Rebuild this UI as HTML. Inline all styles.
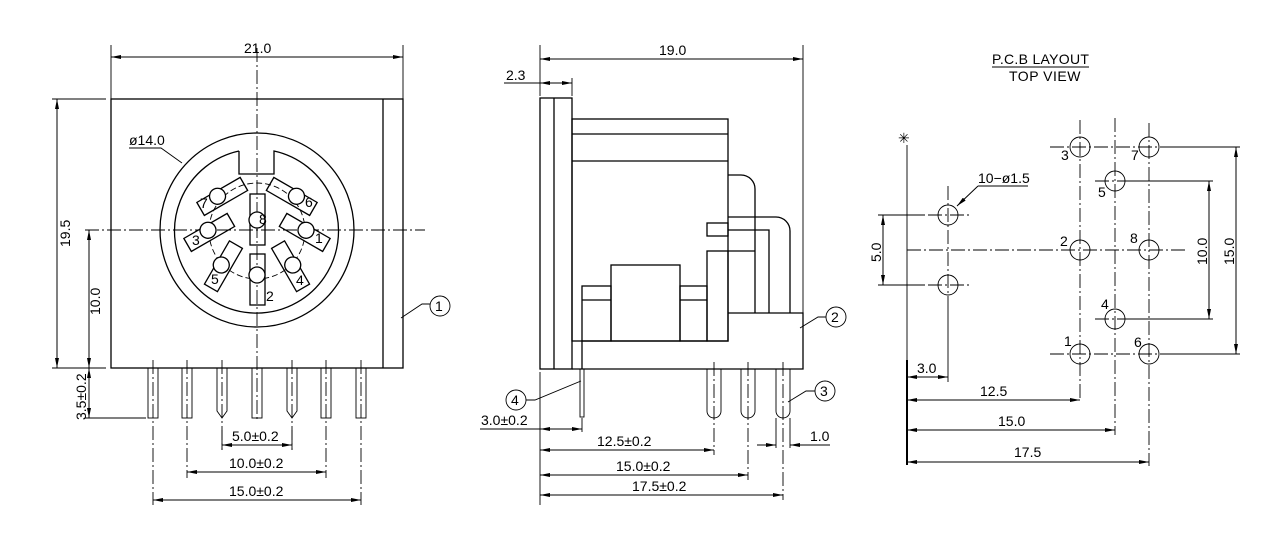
<!DOCTYPE html>
<html><head><meta charset="utf-8"><style>
html,body{margin:0;padding:0;background:#fff;}
svg{display:block;}
text{font-family:"Liberation Sans",sans-serif;font-size:14px;fill:#000;}
.s{fill:none;stroke:#000;stroke-width:1.3;}
.t{fill:none;stroke:#000;stroke-width:0.9;}
.c{fill:none;stroke:#000;stroke-width:0.9;stroke-dasharray:14 3 2 3;}
.d{fill:none;stroke:#000;stroke-width:1;marker-start:url(#a);marker-end:url(#a);}
.d1{fill:none;stroke:#000;stroke-width:1;marker-end:url(#a);}
</style></head><body>
<svg width="1267" height="548" viewBox="0 0 1267 548" xmlns="http://www.w3.org/2000/svg">
<defs><marker id="a" viewBox="0 0 10 4" refX="10" refY="2" markerWidth="10" markerHeight="4" orient="auto-start-reverse" markerUnits="userSpaceOnUse"><path d="M0,0L10,2L0,4z" fill="#000"/></marker></defs>
<rect width="1267" height="548" fill="#fff"/>

<!-- LEFT VIEW -->
<rect class="s" x="111" y="99" width="292" height="269"/>
<line class="s" x1="383" y1="99" x2="383" y2="368"/>
<line class="c" x1="257" y1="48" x2="257" y2="420"/>
<line class="c" x1="85" y1="230" x2="425" y2="230"/>
<circle class="s" cx="257" cy="230" r="97"/>
<path class="s" d="M239,151 L239,174 L274,174 L274,151 A82,82 0 1 1 239,151"/>
<circle class="t" cx="257" cy="231" r="48" stroke-dasharray="6 3"/>
<g class="s">
<g transform="translate(257,220)"><rect x="-7" y="-26" width="15" height="51"/><circle cx="0" cy="0" r="8" fill="#fff"/></g>
<g transform="translate(257,280)"><rect x="-7" y="-26" width="15" height="51"/><circle cx="0" cy="-5" r="8" fill="#fff"/></g>
<g transform="translate(292,196) rotate(30)"><rect x="-25" y="-7" width="50" height="15"/><circle cx="4" cy="-2" r="8" fill="#fff"/></g>
<g transform="translate(222,196) rotate(-30)"><rect x="-25" y="-7" width="50" height="15"/><circle cx="-4" cy="-2" r="8" fill="#fff"/></g>
<g transform="translate(305,232) rotate(30)"><rect x="-25" y="-7" width="50" height="15"/><circle cx="0" cy="-2" r="8" fill="#fff"/></g>
<g transform="translate(209,232) rotate(-30)"><rect x="-25" y="-7" width="50" height="15"/><circle cx="0" cy="-2" r="8" fill="#fff"/></g>
<g transform="translate(291,266) rotate(60)"><rect x="-25" y="-7" width="50" height="15"/><circle cx="0" cy="-2" r="8" fill="#fff"/></g>
<g transform="translate(223,266) rotate(-60)"><rect x="-25" y="-7" width="50" height="15"/><circle cx="0" cy="-2" r="8" fill="#fff"/></g>
</g>
<g font-size="12">
<text x="259" y="224">8</text>
<text x="266" y="301">2</text>
<text x="305" y="207">6</text>
<text x="200" y="208">7</text>
<text x="315" y="243">1</text>
<text x="192" y="245">3</text>
<text x="296" y="285">4</text>
<text x="211" y="284">5</text>
</g>
<text x="129" y="145">ø14.0</text>
<polyline class="t" points="129,148 161,148 182,163"/>
<!-- pins -->
<g class="t">
<rect x="148" y="368" width="10" height="50"/><rect x="182" y="368" width="10" height="50"/>
<path d="M217,368 V411 L222,418 L227,411 V368"/><rect x="252" y="368" width="10" height="50"/>
<path d="M287,368 V411 L292,418 L297,411 V368"/><rect x="321" y="368" width="10" height="50"/><rect x="356" y="368" width="10" height="50"/>
</g>
<g class="c"><line x1="153" y1="360" x2="153" y2="505"/><line x1="187" y1="360" x2="187" y2="478"/><line x1="222" y1="360" x2="222" y2="450"/><line x1="292" y1="360" x2="292" y2="450"/><line x1="326" y1="360" x2="326" y2="478"/><line x1="361" y1="360" x2="361" y2="505"/></g>
<line class="t" x1="222" y1="430" x2="222" y2="450"/><line class="t" x1="292" y1="430" x2="292" y2="450"/>
<line class="d" x1="222" y1="445" x2="292" y2="445"/><text x="232" y="441">5.0±0.2</text>
<line class="d" x1="187" y1="472" x2="326" y2="472"/><text x="229" y="468">10.0±0.2</text>
<line class="d" x1="153" y1="500" x2="361" y2="500"/><text x="229" y="496">15.0±0.2</text>
<!-- left dims -->
<line class="t" x1="111" y1="45" x2="111" y2="99"/><line class="t" x1="403" y1="45" x2="403" y2="99"/>
<line class="d" x1="111" y1="57" x2="403" y2="57"/><text x="244" y="53">21.0</text>
<line class="t" x1="52" y1="99" x2="106" y2="99"/><line class="t" x1="52" y1="368" x2="106" y2="368"/>
<line class="d" x1="57" y1="99" x2="57" y2="368"/>
<text transform="translate(70,247) rotate(-90)">19.5</text>
<line class="d" x1="89" y1="230" x2="89" y2="368"/>
<text transform="translate(100,315) rotate(-90)">10.0</text>
<line class="t" x1="85" y1="418" x2="146" y2="418"/>
<line class="d" x1="89" y1="368" x2="89" y2="418"/>
<text transform="translate(86,420) rotate(-90)" font-size="13">3.5±0.2</text>
<polyline class="t" points="401,318 422,304 430,304"/><circle class="t" cx="440" cy="306" r="10"/>
<text x="435" y="311">1</text>

<!-- MIDDLE VIEW -->
<g class="s">
<rect x="540" y="98" width="32" height="271"/><line x1="554" y1="98" x2="554" y2="369"/>
<rect x="572" y="119" width="156" height="222"/>
<line x1="572" y1="134" x2="728" y2="134"/><line x1="572" y1="161" x2="728" y2="161"/>
<path d="M572,369 H803 V313 H728"/><line x1="582" y1="341" x2="582" y2="369"/>
<rect x="582" y="286" width="29" height="55"/><line x1="582" y1="300" x2="611" y2="300"/>
<rect x="611" y="265" width="69" height="76"/>
<rect x="680" y="286" width="27" height="55"/><line x1="680" y1="300" x2="707" y2="300"/>
<rect x="707" y="251" width="21" height="90"/>
<rect x="707" y="223" width="21" height="13"/>
<path d="M728,175 H741 A14,14 0 0 1 755,189 V313"/>
<path d="M728,217 H776 A14,14 0 0 1 790,231 V313"/>
<path d="M728,230 H769 V313"/><path d="M728,251 H755"/>
</g>
<line class="t" x1="803" y1="45" x2="803" y2="313"/>
<g class="t">
<path d="M707,369 V411 A7,7 0 0 0 721,411 V369"/>
<path d="M741,369 V411 A7,7 0 0 0 755,411 V369"/>
<path d="M776,369 V411 A7,7 0 0 0 790,411 V369"/>
<rect x="580" y="369" width="4" height="48"/>
</g>
<g class="c"><line x1="714" y1="362" x2="714" y2="455"/><line x1="748" y1="362" x2="748" y2="480"/><line x1="783" y1="362" x2="783" y2="500"/></g>
<line class="t" x1="776" y1="418" x2="776" y2="448"/><line class="t" x1="790" y1="418" x2="790" y2="448"/>
<line class="d1" x1="757" y1="445" x2="776" y2="445"/><line class="d1" x1="830" y1="445" x2="790" y2="445"/>
<text x="810" y="441">1.0</text>
<line class="t" x1="540" y1="372" x2="540" y2="505"/><line class="t" x1="582" y1="418" x2="582" y2="432"/>
<line class="t" x1="480" y1="429" x2="540" y2="429"/>
<line class="d" x1="540" y1="429" x2="582" y2="429"/><text x="481" y="425">3.0±0.2</text>
<line class="d" x1="540" y1="450" x2="714" y2="450"/><text x="597" y="446">12.5±0.2</text>
<line class="d" x1="540" y1="475" x2="748" y2="475"/><text x="616" y="471">15.0±0.2</text>
<line class="d" x1="540" y1="495" x2="783" y2="495"/><text x="632" y="491">17.5±0.2</text>
<line class="t" x1="540" y1="45" x2="540" y2="96"/><line class="t" x1="572" y1="78" x2="572" y2="96"/>
<line class="d" x1="540" y1="59" x2="803" y2="59"/><text x="659" y="55">19.0</text>
<line class="t" x1="504" y1="83" x2="540" y2="83"/>
<line class="d" x1="540" y1="83" x2="572" y2="83"/><text x="506" y="80">2.3</text>
<polyline class="t" points="800,328 818,317 826,317"/><circle class="t" cx="836" cy="317" r="10"/><text x="831" y="322">2</text>
<polyline class="t" points="788,402 806,391 815,391"/><circle class="t" cx="825" cy="391" r="10"/><text x="820" y="396">3</text>
<polyline class="t" points="581,381 535,400 526,400"/><circle class="t" cx="516" cy="400" r="10"/><text x="511" y="405">4</text>

<!-- PCB VIEW -->
<text x="992" y="64" font-family="Liberation Mono" font-size="12" letter-spacing="0.3">P.C.B LAYOUT</text>
<line class="t" x1="992" y1="67" x2="1089" y2="67"/>
<text x="1009" y="81" font-family="Liberation Mono" font-size="12" letter-spacing="0.5">TOP VIEW</text>
<text x="898" y="143" font-size="20">✳</text>
<line class="t" x1="907" y1="145" x2="907" y2="465"/><line x1="907" y1="360" x2="907" y2="465" stroke="#000" stroke-width="2"/>
<g class="c">
<line x1="907" y1="250" x2="1185" y2="250"/>
<line x1="948" y1="186" x2="948" y2="300"/>
<line x1="1080" y1="120" x2="1080" y2="400"/><line x1="1115" y1="118" x2="1115" y2="435"/><line x1="1149" y1="123" x2="1149" y2="466"/>
<line x1="1050" y1="147" x2="1160" y2="147"/><line x1="1050" y1="354" x2="1160" y2="354"/>
<line x1="1095" y1="181" x2="1130" y2="181"/><line x1="1095" y1="319" x2="1130" y2="319"/>
<line x1="928" y1="215" x2="972" y2="215"/><line x1="928" y1="285" x2="972" y2="285"/>
</g>
<line class="t" x1="948" y1="300" x2="948" y2="382"/>
<g class="t">
<circle cx="948" cy="215" r="10"/><circle cx="948" cy="285" r="10"/>
<circle cx="1080" cy="147" r="10"/><circle cx="1080" cy="250" r="10"/><circle cx="1080" cy="354" r="10"/>
<circle cx="1115" cy="181" r="10"/><circle cx="1115" cy="319" r="10"/>
<circle cx="1149" cy="147" r="10"/><circle cx="1149" cy="250" r="10"/><circle cx="1149" cy="354" r="10"/>
</g>
<g font-size="12"><text x="1061" y="160">3</text><text x="1131" y="160">7</text><text x="1098" y="197">5</text><text x="1060" y="246">2</text><text x="1130" y="243">8</text><text x="1101" y="309">4</text><text x="1064" y="346">1</text><text x="1134" y="347">6</text></g>
<text x="978" y="183">10−ø1.5</text>
<line class="t" x1="978" y1="186" x2="1028" y2="186"/><line class="d1" x1="978" y1="186" x2="957" y2="206"/>
<line class="t" x1="878" y1="215" x2="925" y2="215"/><line class="t" x1="878" y1="285" x2="925" y2="285"/>
<line class="d" x1="883" y1="215" x2="883" y2="285"/>
<text transform="translate(881,262) rotate(-90)">5.0</text>
<line class="t" x1="1130" y1="181" x2="1213" y2="181"/><line class="t" x1="1130" y1="319" x2="1213" y2="319"/>
<line class="d" x1="1209" y1="181" x2="1209" y2="319"/>
<text transform="translate(1207,265) rotate(-90)">10.0</text>
<line class="t" x1="1160" y1="147" x2="1240" y2="147"/><line class="t" x1="1160" y1="354" x2="1240" y2="354"/>
<line class="d" x1="1236" y1="147" x2="1236" y2="354"/>
<text transform="translate(1234,265) rotate(-90)">15.0</text>
<line class="d" x1="907" y1="377" x2="948" y2="377"/><text x="917" y="373">3.0</text>
<line class="d" x1="907" y1="400" x2="1080" y2="400"/><text x="980" y="396">12.5</text>
<line class="d" x1="907" y1="430" x2="1115" y2="430"/><text x="998" y="426">15.0</text>
<line class="d" x1="907" y1="462" x2="1149" y2="462"/><text x="1014" y="457">17.5</text>
</svg>
</body></html>
